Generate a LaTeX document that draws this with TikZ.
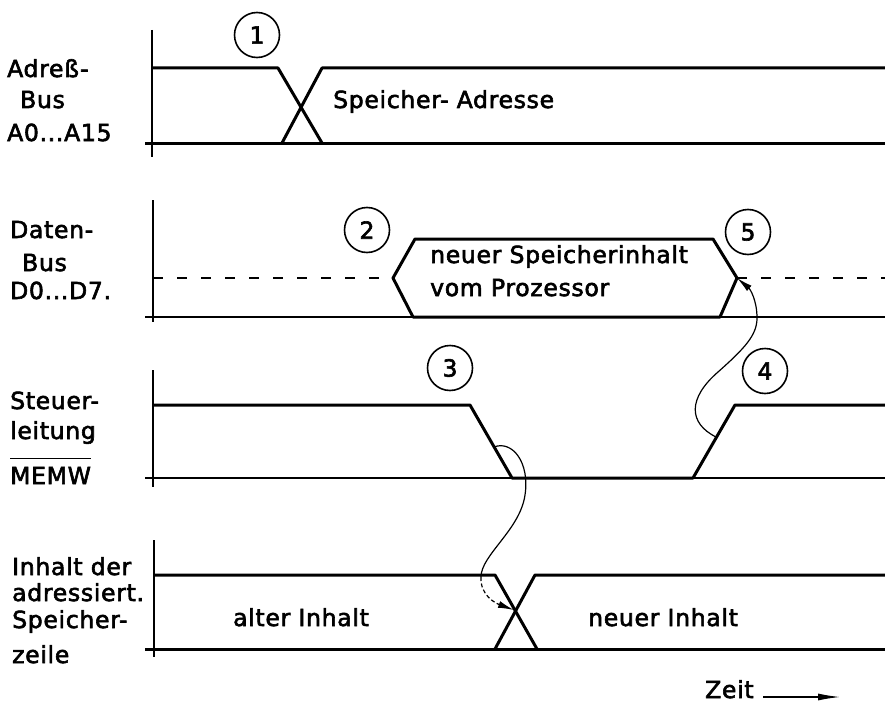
\documentclass[tikz,border=0pt]{standalone}
\usepackage{fontspec}
\setmainfont{DejaVu Sans}[FakeBold=2.5, LetterSpace=3]
\usetikzlibrary{arrows.meta}
\begin{document}
\begin{tikzpicture}[x=1pt,y=-1pt,
  sig/.style={line width=3pt, line join=round},
  axis/.style={line width=1.2pt},
  rowbase/.style={line width=1.5pt},
  tristate/.style={line width=1.5pt, dash pattern=on 10pt off 14pt},
  lbl/.style={anchor=base west, inner sep=0pt, font=\fontsize{23.5}{28}\selectfont},
  num/.style={circle, draw, line width=1.6pt, minimum size=45pt, inner sep=0pt,
              font=\fontsize{23.5}{28}\selectfont},
  cause/.style={line width=1.2pt, -{Latex[length=16pt,width=7pt]}},
]
\useasboundingbox (0,0) rectangle (885,706);

% ---------- address bus ----------
\draw[axis] (152,30) -- (152,157);
\draw[sig] (145,143) -- (885,143);
\draw[sig] (152,68) -- (278,68) -- (322,143);
\draw[sig] (282,143) -- (322,68) -- (885,68);
\node[num] (c1) at (257,35) {1};
\node[lbl] (adr) at (333,108) {Speicher- Adresse};
\node[lbl] (la1) at (7,77) {Adreß-};
\node[lbl] (la2) at (20,108) {Bus};
\node[lbl] (la3) at (7,141) {A0...A15};

% ---------- data bus ----------
\coordinate (dL) at (393,278);
\coordinate (dR) at (737,278);
\draw[axis] (153,200) -- (153,322);
\draw[rowbase] (145,317) -- (885,317);
\draw[tristate] (153,278) -- (dL);
\draw[tristate] (dR) -- (885,278);
\draw[sig] (413,317) -- (dL) -- (415,239) -- (713,239) -- (dR) -- (720,317) -- cycle;
\node[num] (c2) at (367,230) {2};
\node[num] (c5) at (748,232) {5};
\node[lbl] (dat1) at (430,263) {neuer Speicherinhalt};
\node[lbl] (dat2) at (430,296) {vom Prozessor};
\node[lbl] (ld1) at (10,238) {Daten-};
\node[lbl] (ld2) at (22,271) {Bus};
\node[lbl] (ld3) at (10,299) {D0...D7.};

% ---------- control line MEMW ----------
\draw[axis] (153,370) -- (153,487);
\draw[rowbase] (145,478) -- (885,478);
\draw[sig] (153,405) -- (470,405) -- (512,478) -- (693,478) -- (735,405) -- (885,405);
\coordinate (fall) at (494,447);
\coordinate (rise) at (716,437);
\node[num] (c3) at (450,368) {3};
\node[num] (c4) at (765,371) {4};
\node[lbl] (lc1) at (10,409) {Steuer-};
\node[lbl] (lc2) at (10,439) {leitung};
\node[lbl] (lc3) at (10,484) {MEMW};
\draw[line width=1.4pt] ([yshift=8pt]lc3.north west) -- ([yshift=8pt]lc3.north east);

% ---------- addressed memory cell ----------
\draw[axis] (154,540) -- (154,657);
\draw[sig] (145,649) -- (885,649);
\draw[sig] (154,575) -- (495,575) -- (537,649);
\draw[sig] (495,649) -- (535,575) -- (885,575);
\coordinate (xm) at (514,610);
\node[lbl] (old) at (233,626) {alter Inhalt};
\node[lbl] (new) at (588,626) {neuer Inhalt};
\node[lbl] (lm1) at (12,575) {Inhalt der};
\node[lbl] (lm2) at (12,601) {adressiert.};
\node[lbl] (lm3) at (12,628) {Speicher-};
\node[lbl] (lm4) at (12,663) {zeile};

% ---------- cause and effect ----------
\draw[line width=1.2pt] (fall) .. controls (512,440) and (530,462) .. (525,495)
  .. controls (520,530) and (481,555) .. (481,577);
\draw[cause, dash pattern=on 4pt off 2.5pt] (481,577) .. controls (480,595) and (495,603) .. (xm);
\draw[cause] (rise) .. controls (688,423) and (688,398) .. (718,372)
  .. controls (745,348) and (757,335) .. (757,318)
  .. controls (757,300) and (750,289) .. (dR);

% ---------- time axis ----------
\node[lbl] (zeit) at (705,698) {Zeit};
\coordinate (t0) at (763,697);
\coordinate (t1) at (840,697);
\draw[line width=1.2pt, -{Latex[length=22pt,width=7pt]}] (t0) -- (t1);
\end{tikzpicture}
\end{document}
